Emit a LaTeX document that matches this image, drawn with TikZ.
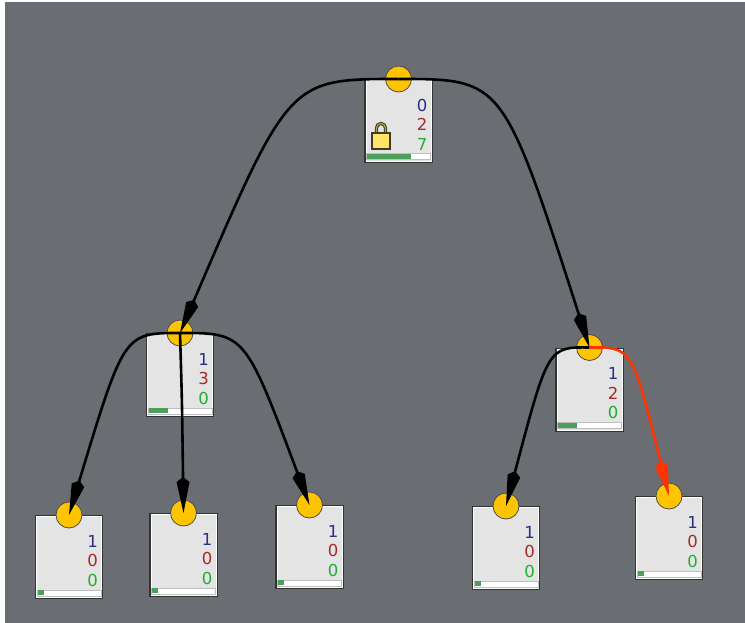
\documentclass[tikz,border=0pt]{standalone}
\usepackage{fontspec}
\setmainfont{DejaVu Sans}
\usepackage{tikz}
\usetikzlibrary{arrows.meta}
\usetikzlibrary{calc}

\definecolor{panelgray}{HTML}{6A6E72}
\definecolor{cardgray}{HTML}{E4E4E4}
\definecolor{portgold}{HTML}{FFC400}
\definecolor{lockyellow}{HTML}{FFE566}
\definecolor{lockedge}{HTML}{3E3C26}
\definecolor{countblue}{HTML}{2A2F86}
\definecolor{countred}{HTML}{A52A2A}
\definecolor{countgreen}{HTML}{1FAE2F}
\definecolor{bargreen}{HTML}{4C9F5A}
\definecolor{edgered}{HTML}{FF3300}

\tikzset{
	card/.style={draw=black!80, line width=1.3pt, fill=cardgray, inner sep=0pt, minimum width=67pt, minimum height=83pt},
	cardedge/.style={draw=white, line width=0.8pt, inner sep=0pt, minimum width=65pt, minimum height=81pt},
	port/.style={circle, draw=black!70, line width=0.8pt, fill=portgold, inner sep=0pt, minimum size=26pt},
	count/.style={font=\fontsize{16.5}{19.5}\selectfont, inner sep=0pt, align=right, anchor=north east},
	barback/.style={fill=white, draw=black!25, line width=0.8pt, inner sep=0pt, minimum width=64pt, minimum height=6pt, anchor=south},
	barfill/.style={fill=bargreen, inner sep=0pt, minimum height=5pt, anchor=west},
	link/.style={line width=2.6pt, -{Kite[length=36pt,width=13pt,inset=5pt,sep=0pt]}}
}

% card at x,y of its top centre: name, x, y, three counts, length of the green bar
\newcommand{\cardnode}[7]{
	\node[card, anchor=north] (#1) at (#2,#3) {};
	\node[cardedge] (#1edge) at (#1.center) {};
	\node[barback] (#1bar) at ($(#1.south)+(0,3pt)$) {};
	\node[barfill, minimum width=#7pt] (#1fill) at ($(#1bar.west)+(1pt,0)$) {};
	\node[port] (#1port) at (#1.north) {};
	\node[count] (#1count) at ($(#1.north east)+(-5pt,-20pt)$) {\textcolor{countblue}{#4}\\\textcolor{countred}{#5}\\\textcolor{countgreen}{#6}};
}

\begin{document}
\begin{tikzpicture}[x=1pt, y=-1pt]
\useasboundingbox (0,0) rectangle (745,623);
\fill[panelgray] (5,2) rectangle (745,623);

\cardnode{root}{398.5}{79}{0}{2}{7}{44}
\cardnode{left}{180}{333}{1}{3}{0}{19}
\cardnode{right}{589.5}{347.5}{1}{2}{0}{19}
\cardnode{leafa}{69}{515}{1}{0}{0}{6}
\cardnode{leafb}{183.5}{513}{1}{0}{0}{6}
\cardnode{leafc}{309.5}{505}{1}{0}{0}{6}
\cardnode{leafd}{506}{506}{1}{0}{0}{6}
\cardnode{leafe}{669}{496}{1}{0}{0}{6}

% padlock of the root card
\draw[lockedge, line width=3.2pt] (381,133) ++(-4.5pt,0) -- ++(0,5pt) arc[start angle=180, end angle=0, radius=4.5pt] -- ++(0,-5pt);
\draw[lockyellow!70!black, line width=1.2pt] (381,133) ++(-4.5pt,0) -- ++(0,5pt) arc[start angle=180, end angle=0, radius=4.5pt] -- ++(0,-5pt);
\node[draw=lockedge, fill=lockyellow, line width=1.3pt, inner sep=0pt, minimum width=18pt, minimum height=16pt] (lockbody) at (381,141) {};

\draw[link] (rootport.center) .. controls (289,79) .. (leftport.center);
\draw[link] (rootport.center) .. controls (503,79) .. (rightport.center);
\draw[link] (leftport.center) .. controls (124,333) .. (leafaport.center);
\draw[link] (leftport.center) .. controls (182,400) .. (leafbport.center);
\draw[link] (leftport.center) .. controls (245,333) .. (leafcport.center);
\draw[link] (rightport.center) .. controls (548,347) .. (leafdport.center);
\draw[link, edgered] (rightport.center) .. controls (632,347) .. (leafeport.center);
\end{tikzpicture}
\end{document}
